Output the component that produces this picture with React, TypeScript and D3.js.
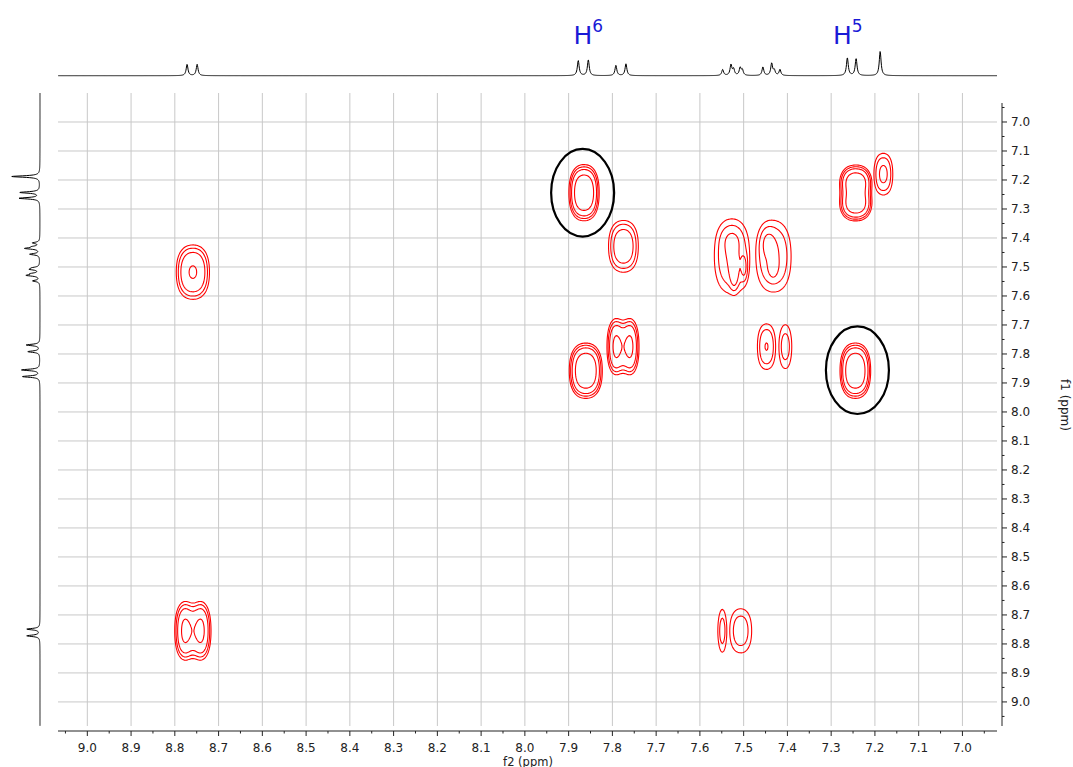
import React from 'react';
import * as d3 from 'd3';

const W = 1073;
const H = 767;

// 1D projection: line positions (ppm) and relative heights
const peakPpm = [8.772, 8.749, 7.878, 7.855, 7.792, 7.769, 7.548, 7.529, 7.523, 7.508, 7.503, 7.456, 7.436, 7.43, 7.417, 7.263, 7.243, 7.188];
const peakHeight = [0.45, 0.45, 0.6, 0.63, 0.41, 0.47, 0.24, 0.42, 0.25, 0.3, 0.22, 0.34, 0.48, 0.2, 0.24, 0.71, 0.68, 0.97];

// COSY cross peaks: [f2, f1, amplitude, width f2, width f1, split f2, split f1, group]
const crossPeaks: number[][] = [
  [8.760, 7.516, 2.7, 0.0195, 0.048, 0.031, 0.077, 0],
  [8.760, 8.753, 2.58, 0.0154, 0.05, 0.0385, 0.08, 1],
  [7.866, 7.242, 4.2, 0.0152, 0.0427, 0.0243, 0.068, 2],
  [7.776, 7.427, 2.3, 0.0188, 0.049, 0.03, 0.079, 3],
  [7.862, 7.856, 4.2, 0.0166, 0.042, 0.0265, 0.067, 4],
  [7.777, 7.773, 2.58, 0.0137, 0.048, 0.034, 0.077, 5],
  [7.449, 7.773, 1.72, 0.0137, 0.052, 0.022, 0.083, 6],
  [7.406, 7.773, 1.5, 0.011, 0.084, 0.0176, 0, 7],
  [7.246, 7.856, 4.2, 0.0154, 0.042, 0.0246, 0.067, 8],
  [7.245, 7.243, 3.8, 0.0165, 0.035, 0.0264, 0.08, 9],
  [7.182, 7.178, 1.85, 0.0135, 0.045, 0.0216, 0.072, 10],
  [7.550, 8.753, 1.5, 0.0114, 0.082, 0, 0, 11],
  [7.508, 8.753, 1.55, 0.018, 0.055, 0.029, 0.088, 12],
  [7.528, 7.462, 1.75, 0.026, 0.083, 0.042, 0.133, 13],
  [7.528, 7.400, 0.3, 0.016, 0.03, 0, 0, 13],
  [7.523, 7.520, 0.9, 0.006, 0.035, 0, 0, 13],
  [7.500, 7.500, 0.7, 0.005, 0.03, 0, 0, 13],
  [7.433, 7.462, 1.75, 0.026, 0.08, 0.042, 0.128, 14],
  [7.447, 7.410, 0.4, 0.012, 0.035, 0, 0, 14],
  [7.434, 7.500, 0.87, 0.006, 0.02, 0, 0, 14],
];
const contourLevels = [1, 1.3, 1.7, 2.6];

const ppmTicks = [7.0, 7.1, 7.2, 7.3, 7.4, 7.5, 7.6, 7.7, 7.8, 7.9, 8.0, 8.1, 8.2, 8.3, 8.4, 8.5, 8.6, 8.7, 8.8, 8.9, 9.0];
const tickLabels = ppmTicks.map((t) => t.toFixed(1));

// annotations
const protonLabels = ['6', '5'];
const protonLabelPpm = [7.855, 7.262];
const circleF2 = [7.868, 7.240];
const circleF1 = [7.244, 7.856];
const circleR2 = 0.072;
const circleR1 = 0.151;

const F2_LEFT = 9.067;
const F2_RIGHT = 6.921;
const F1_TOP = 6.9;
const F1_BOTTOM = 9.083;

const xs = d3.scaleLinear().domain([F2_LEFT, F2_RIGHT]).range([58, 997]);
const ys = d3.scaleLinear().domain([F1_TOP, F1_BOTTOM]).range([93, 726]);
const topY = d3.scaleLinear().domain([0, 1]).range([75.7, 50.7]);
const sideX = d3.scaleLinear().domain([0, 1]).range([40, 11]);

function spectrum(ppm: number[], gamma: number) {
  return ppm.map((p) => {
    let v = 0;
    peakPpm.forEach((p0, k) => {
      const d = p - p0;
      v += (peakHeight[k] * gamma * gamma) / (d * d + gamma * gamma);
    });
    return [p, v] as [number, number];
  });
}

function buildContours() {
  const dx = 0.0025;
  const dy = 0.0035;
  const nx = Math.ceil((F2_LEFT - F2_RIGHT) / dx) + 1;
  const ny = Math.ceil((F1_BOTTOM - F1_TOP) / dy) + 1;
  const field = new Float64Array(nx * ny);
  const groups = d3.group(crossPeaks, (d) => d[7]);
  for (const [, entries] of groups) {
    const comps: { c2: number; c1: number; w: number; s2: number; s1: number }[] = [];
    for (const [f2, f1, amp, s2, s1, j2, j1] of entries) {
      const n2 = j2 > 0 ? 2 * Math.exp(-((j2 / 2) ** 2) / (2 * s2 * s2)) : 1;
      const n1 = j1 > 0 ? 2 * Math.exp(-((j1 / 2) ** 2) / (2 * s1 * s1)) : 1;
      const o2 = j2 > 0 ? [-j2 / 2, j2 / 2] : [0];
      const o1 = j1 > 0 ? [-j1 / 2, j1 / 2] : [0];
      for (const a of o2) for (const b of o1) comps.push({ c2: f2 + a, c1: f1 + b, w: amp / (n2 * n1), s2, s1 });
    }
    let i0 = Infinity, i1 = -Infinity, k0 = Infinity, k1 = -Infinity;
    for (const c of comps) {
      i0 = Math.min(i0, Math.floor((F2_LEFT - (c.c2 + 4 * c.s2)) / dx));
      i1 = Math.max(i1, Math.ceil((F2_LEFT - (c.c2 - 4 * c.s2)) / dx));
      k0 = Math.min(k0, Math.floor((c.c1 - 4 * c.s1 - F1_TOP) / dy));
      k1 = Math.max(k1, Math.ceil((c.c1 + 4 * c.s1 - F1_TOP) / dy));
    }
    i0 = Math.max(0, i0); i1 = Math.min(nx - 1, i1);
    k0 = Math.max(0, k0); k1 = Math.min(ny - 1, k1);
    for (let k = k0; k <= k1; k++) {
      const f1 = F1_TOP + k * dy;
      for (let i = i0; i <= i1; i++) {
        const f2 = F2_LEFT - i * dx;
        let v = 0;
        for (const c of comps) {
          const u = (f2 - c.c2) / c.s2;
          const w = (f1 - c.c1) / c.s1;
          v += c.w * Math.exp(-0.5 * (u * u + w * w));
        }
        const idx = i + k * nx;
        if (v > field[idx]) field[idx] = v;
      }
    }
  }
  const contours = d3.contours().size([nx, ny]).thresholds(contourLevels)(field as any);
  const path = d3.geoPath(
    d3.geoTransform({
      point(x: number, y: number) {
        (this as any).stream.point(xs(F2_LEFT - x * dx), ys(F1_TOP + y * dy));
      },
    })
  );
  return contours.map((c) => path(c) || '');
}

export default function App() {
  const contourPaths = React.useMemo(buildContours, []);

  const topPath = React.useMemo(() => {
    const pts = spectrum(d3.range(F2_RIGHT, F2_LEFT, 0.0008), 0.0025);
    return d3.line<[number, number]>().x((d) => xs(d[0])).y((d) => topY(d[1]))(pts) || '';
  }, []);

  const sidePath = React.useMemo(() => {
    const pts = spectrum(d3.range(F1_TOP, F1_BOTTOM, 0.0008), 0.003);
    return d3.line<[number, number]>().x((d) => sideX(d[1])).y((d) => ys(d[0]))(pts) || '';
  }, []);

  const minorTicks = d3.range(6.95, 9.06, 0.1);
  const axisY = 731;
  const axisX = 1002;
  const font = 'DejaVu Sans, Verdana, sans-serif';

  return (
    <svg width={W} height={H} style={{ position: 'absolute', left: 0, top: 0, background: '#fff' }}>
      {/* grid */}
      <g stroke="#c8c8c8" strokeWidth={1}>
        {ppmTicks.map((t) => (
          <line key={'v' + t} x1={xs(t)} x2={xs(t)} y1={93} y2={726} />
        ))}
        {ppmTicks.map((t) => (
          <line key={'h' + t} x1={58} x2={997} y1={ys(t)} y2={ys(t)} />
        ))}
      </g>

      {/* 1D projections */}
      <path d={topPath} fill="none" stroke="#000" strokeWidth={1} />
      <path d={sidePath} fill="none" stroke="#000" strokeWidth={1} />

      {/* contours */}
      <g fill="none" stroke="#ff0000" strokeWidth={1.1}>
        {contourPaths.map((d, i) => (
          <path key={i} d={d} />
        ))}
      </g>

      {/* circled cross peaks */}
      {circleF2.map((f2, i) => (
        <ellipse
          key={i}
          cx={xs(f2)}
          cy={ys(circleF1[i])}
          rx={xs(0) - xs(circleR2)}
          ry={ys(circleR1) - ys(0)}
          fill="none"
          stroke="#000"
          strokeWidth={2.2}
        />
      ))}

      {/* proton labels */}
      {protonLabels.map((s, i) => (
        <text key={s} x={xs(protonLabelPpm[i])} y={44} fill="#1a1ad6" fontFamily={font} textAnchor="middle">
          <tspan fontSize={25}>H</tspan>
          <tspan fontSize={17} dy={-12}>{s}</tspan>
        </text>
      ))}

      {/* bottom axis */}
      <g stroke="#222" strokeWidth={1}>
        <line x1={58} x2={997} y1={axisY} y2={axisY} />
        {ppmTicks.map((t) => (
          <line key={'bt' + t} x1={xs(t)} x2={xs(t)} y1={axisY} y2={axisY + 5} />
        ))}
        {minorTicks.map((t) => (
          <line key={'bm' + t} x1={xs(t)} x2={xs(t)} y1={axisY} y2={axisY + 2.5} />
        ))}
      </g>
      <g fontFamily={font} fontSize={12} fill="#222" textAnchor="middle">
        {ppmTicks.map((t, i) => (
          <text key={'bl' + t} x={xs(t)} y={752}>
            {tickLabels[i]}
          </text>
        ))}
        <text x={528} y={765.5} fontSize={11.5}>f2 (ppm)</text>
      </g>

      {/* right axis */}
      <g stroke="#222" strokeWidth={1}>
        <line x1={axisX} x2={axisX} y1={103} y2={726} />
        {ppmTicks.map((t) => (
          <line key={'rt' + t} x1={axisX} x2={axisX + 5} y1={ys(t)} y2={ys(t)} />
        ))}
        {minorTicks.map((t) => (
          <line key={'rm' + t} x1={axisX} x2={axisX + 2.5} y1={ys(t)} y2={ys(t)} />
        ))}
      </g>
      <g fontFamily={font} fontSize={12} fill="#222">
        {ppmTicks.map((t, i) => (
          <text key={'rl' + t} x={1011} y={ys(t) + 4}>
            {tickLabels[i]}
          </text>
        ))}
        <text x={1061} y={405} textAnchor="middle" transform="rotate(90 1061 405)">
          f1 (ppm)
        </text>
      </g>
    </svg>
  );
}
